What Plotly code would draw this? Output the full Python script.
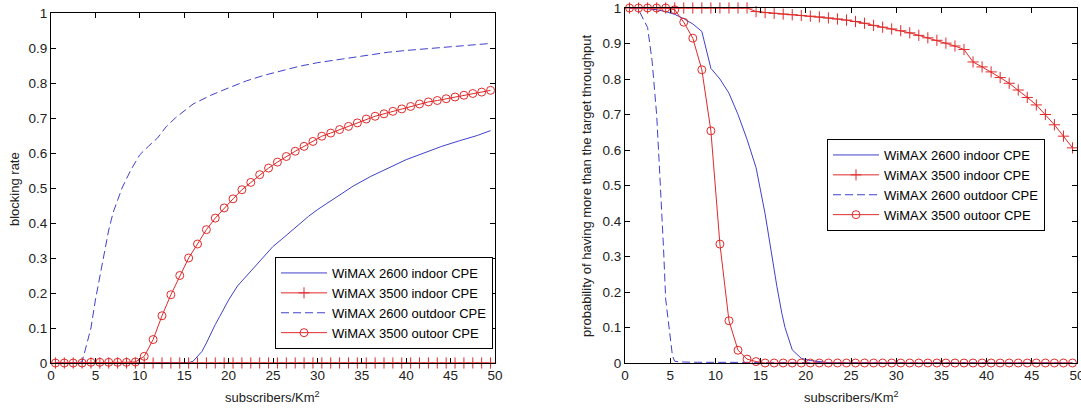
import plotly.graph_objects as go

# ---------------- data ----------------
# common sample positions for marker series (subscribers/Km^2)
x_pts = [i + 0.5 for i in range(50)]

# Left panel: blocking rate
L_in26_x = [0.5, 5, 10, 15, 15.5, 16, 16.5, 17, 17.5, 18, 18.5, 19, 20, 21, 22, 23, 24, 25, 26, 27, 28, 29, 30,
            32, 34, 36, 38, 40, 42, 44, 46, 48, 49.5]
L_in26_y = [0, 0, 0, 0, 0.001, 0.005, 0.02, 0.033, 0.057, 0.086, 0.11, 0.133, 0.18, 0.22, 0.248, 0.276, 0.305,
            0.333, 0.354, 0.376, 0.398, 0.419, 0.438, 0.471, 0.505, 0.533, 0.557, 0.581, 0.60, 0.619, 0.635,
            0.65, 0.664]
L_in35_y = [0.0] * 50
L_out26_x = [0.5, 1.5, 2.5, 3.5, 4.0, 4.5, 5.0, 5.5, 6.0, 6.5, 7.0, 7.5, 8.0, 9.0, 10.0, 11, 12, 13, 14, 16, 18,
             20, 22, 24, 26, 28, 30, 32, 34, 36, 38, 40, 42, 44, 46, 48, 49.5]
L_out26_y = [0, 0, 0, 0.003, 0.05, 0.10, 0.18, 0.25, 0.32, 0.38, 0.43, 0.467, 0.50, 0.552, 0.595, 0.62, 0.643,
             0.676, 0.70, 0.74, 0.765, 0.786, 0.806, 0.822, 0.836, 0.848, 0.858, 0.866, 0.874, 0.881, 0.888,
             0.893, 0.897, 0.902, 0.906, 0.91, 0.913]
L_out35_y = [0, 0, 0, 0, 0.002, 0.002, 0.002, 0.002, 0.002, 0.003, 0.019, 0.067, 0.135, 0.195, 0.25, 0.30,
             0.34, 0.381, 0.414, 0.443, 0.469, 0.495, 0.516, 0.538, 0.557, 0.574, 0.59, 0.605, 0.619, 0.633,
             0.648, 0.657, 0.667, 0.676, 0.686, 0.697, 0.705, 0.712, 0.719, 0.726, 0.733, 0.74, 0.746, 0.75,
             0.755, 0.76, 0.765, 0.77, 0.774, 0.779]

# Right panel: probability of having more than the target throughput
R_in26_x = [0.5, 1.5, 2.5, 3.5, 4.5, 5.5, 6.5, 7.5, 8.5, 9.5, 10.5, 11.5, 12.5, 13.5, 14.5, 15.5, 16.3, 16.8,
            17.35, 17.7, 18.5, 19.5, 20.5, 21.5, 22.5, 30, 40, 49.5]
R_in26_y = [1.0, 1.0, 0.998, 0.995, 0.99, 0.982, 0.97, 0.955, 0.934, 0.83, 0.80, 0.76, 0.70, 0.63, 0.55, 0.42,
            0.29, 0.216, 0.14, 0.10, 0.037, 0.013, 0.007, 0.003, 0.001, 0, 0, 0]
R_in35_y = [1.0] * 14 + [0.99, 0.987, 0.985, 0.983, 0.981, 0.979, 0.977, 0.975, 0.972, 0.969, 0.966, 0.962,
                         0.957, 0.951, 0.946, 0.941, 0.936, 0.930, 0.923, 0.916, 0.909, 0.901, 0.893, 0.883,
                         0.848, 0.834, 0.820, 0.804, 0.788, 0.769, 0.748, 0.727, 0.700, 0.671, 0.639, 0.606]
R_out26_x = [0.5, 1.0, 1.5, 2.0, 2.5, 3.0, 3.25, 3.5, 3.75, 4.0, 4.25, 4.5, 4.75, 5.0, 5.25, 5.5, 6, 8, 10, 12,
             14, 15, 20, 30, 40, 49.5]
R_out26_y = [1.0, 1.0, 0.995, 0.97, 0.945, 0.85, 0.78, 0.70, 0.58, 0.46, 0.33, 0.18, 0.12, 0.06, 0.02, 0.005,
             0.003, 0.002, 0.002, 0.001, 0.001, 0, 0, 0, 0, 0]
R_out35_y = [1.0, 1.0, 1.0, 1.0, 1.0, 0.995, 0.96, 0.915, 0.826, 0.654, 0.335, 0.119, 0.036, 0.011, 0.004] + [0.0] * 35

names = ["WiMAX 2600 indoor CPE", "WiMAX 3500 indoor CPE", "WiMAX 2600 outdoor CPE", "WiMAX 3500 outoor CPE"]
x_ticks = [0, 5, 10, 15, 20, 25, 30, 35, 40, 45, 50]
y_ticks = [0, 0.1, 0.2, 0.3, 0.4, 0.5, 0.6, 0.7, 0.8, 0.9, 1]
y_ticktext = ["0", "0.1", "0.2", "0.3", "0.4", "0.5", "0.6", "0.7", "0.8", "0.9", "1"]

# ---------------- styling ----------------
BLUE = "#4040cc"
RED = "#e02a2a"
FONT = "Liberation Sans, Arial, sans-serif"
W, H = 1081, 411

fig = go.Figure()


def add_panel(xa, ya, leg, d):
    (x1, y1), (x2, y2), (x3, y3), (x4, y4) = d
    fig.add_trace(go.Scatter(x=x1, y=y1, mode="lines", name=names[0], xaxis=xa, yaxis=ya, legend=leg,
                             line=dict(color=BLUE, width=1), cliponaxis=False))
    fig.add_trace(go.Scatter(x=x2, y=y2, mode="lines+markers", name=names[1], xaxis=xa, yaxis=ya, legend=leg,
                             line=dict(color=RED, width=1),
                             marker=dict(symbol="cross-thin-open", size=8, color=RED,
                                         line=dict(color=RED, width=1)), cliponaxis=False))
    fig.add_trace(go.Scatter(x=x3, y=y3, mode="lines", name=names[2], xaxis=xa, yaxis=ya, legend=leg,
                             line=dict(color=BLUE, width=1, dash="8px,4px"), cliponaxis=False))
    fig.add_trace(go.Scatter(x=x4, y=y4, mode="lines+markers", name=names[3], xaxis=xa, yaxis=ya, legend=leg,
                             line=dict(color=RED, width=1),
                             marker=dict(symbol="circle-open", size=8, color=RED,
                                         line=dict(color=RED, width=1)), cliponaxis=False))


add_panel("x", "y", "legend", [(L_in26_x, L_in26_y), (x_pts, L_in35_y), (L_out26_x, L_out26_y), (x_pts, L_out35_y)])
add_panel("x2", "y2", "legend2", [(R_in26_x, R_in26_y), (x_pts, R_in35_y), (R_out26_x, R_out26_y), (x_pts, R_out35_y)])

# panel pixel boxes
L_box = (51, 495, 13, 363)
R_box = (625, 1077, 8, 363)


def xdom(b):
    return [b[0] / W, b[1] / W]


def ydom(b):
    return [1 - b[3] / H, 1 - b[2] / H]


axis_common = dict(showline=True, linecolor="black", linewidth=1, mirror="ticks", ticks="inside", ticklen=5,
                   tickcolor="black", showgrid=False, zeroline=False, automargin=False, ticklabeloverflow="allow",
                   tickfont=dict(family=FONT, size=13.5, color="#222"))

legend_common = dict(xanchor="left", yanchor="top", bgcolor="white", bordercolor="black", borderwidth=1,
                     font=dict(family=FONT, size=13, color="black"), tracegroupgap=0, itemwidth=46)

fig.update_layout(
    width=W, height=H, margin=dict(l=0, r=0, t=0, b=0, autoexpand=False),
    paper_bgcolor="white", plot_bgcolor="white",
    font=dict(family=FONT, color="black"),
    xaxis=dict(domain=xdom(L_box), range=[0, 50], tickvals=x_ticks, anchor="y", **axis_common),
    yaxis=dict(domain=ydom(L_box), range=[0, 1], tickvals=y_ticks, ticktext=y_ticktext, anchor="x", **axis_common),
    xaxis2=dict(domain=xdom(R_box), range=[0, 50], tickvals=x_ticks, anchor="y2", **axis_common),
    yaxis2=dict(domain=ydom(R_box), range=[0, 1], tickvals=y_ticks, ticktext=y_ticktext, anchor="x2", **axis_common),
    legend=dict(x=275 / W, y=1 - 257 / H, **legend_common),
    legend2=dict(x=827 / W, y=1 - 139 / H, **legend_common),
    showlegend=True,
)

# axis titles
fig.add_annotation(text="blocking rate", x=14 / W, y=1 - 189 / H, xref="paper", yref="paper", textangle=-90,
                   showarrow=False, font=dict(family=FONT, size=13, color="#222"), xanchor="center", yanchor="middle")
fig.add_annotation(text="probability of having more than the target throughput", x=586 / W, y=1 - 186 / H,
                   xref="paper", yref="paper", textangle=-90, showarrow=False,
                   font=dict(family=FONT, size=13, color="#222"), xanchor="center", yanchor="middle")
fig.add_annotation(text="subscribers/Km<sup>2</sup>", x=(L_box[0] + L_box[1]) / 2 / W, y=1 - 397 / H,
                   xref="paper", yref="paper", showarrow=False, font=dict(family=FONT, size=13, color="#222"),
                   xanchor="center", yanchor="middle")
fig.add_annotation(text="subscribers/Km<sup>2</sup>", x=(R_box[0] + R_box[1]) / 2 / W, y=1 - 397 / H,
                   xref="paper", yref="paper", showarrow=False, font=dict(family=FONT, size=13, color="#222"),
                   xanchor="center", yanchor="middle")

fig.write_html("out.html", config={"displayModeBar": False},
               post_script="document.body.style.margin='0';document.body.style.overflow='hidden';")
